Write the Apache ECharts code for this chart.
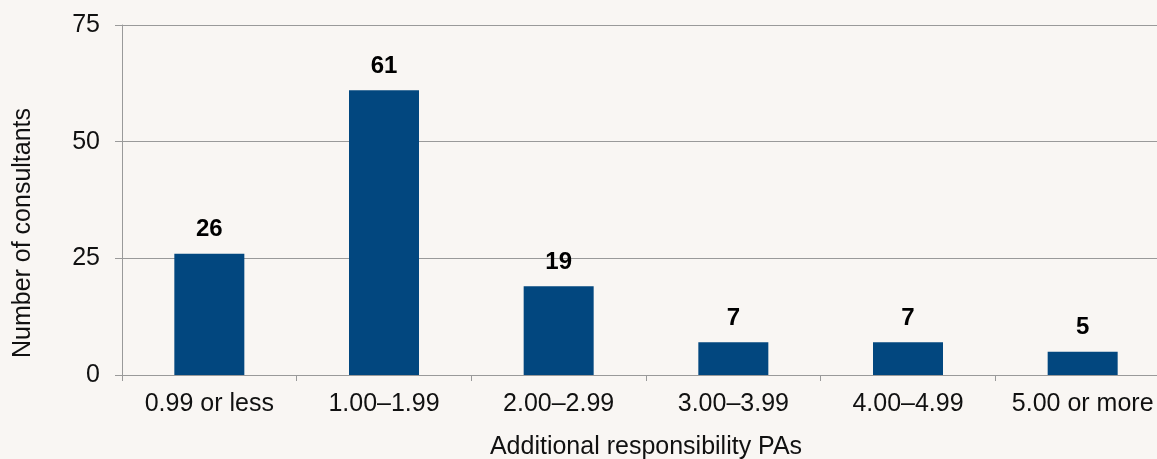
<!DOCTYPE html>
<html>
<head>
<meta charset="utf-8">
<script src="https://cdn.jsdelivr.net/npm/echarts@6/dist/echarts.min.js"></script>
<style>
  html, body { margin: 0; padding: 0; background: #f9f6f3; overflow: hidden; }
  #chart { width: 1157px; height: 459px; }
</style>
</head>
<body>
<div id="chart"></div>
<script>
// Consultants grouped by number of additional responsibility PAs
const categories = ['0.99 or less', '1.00\u20131.99', '2.00\u20132.99', '3.00\u20133.99', '4.00\u20134.99', '5.00 or more'];
const consultants = [26, 61, 19, 7, 7, 5];
const yTicks = { min: 0, max: 75, interval: 25 };

const FONT = 'Liberation Sans, Arial, sans-serif';
const GREY = '#9a9a9a';

const chart = echarts.init(document.getElementById('chart'), null, { renderer: 'canvas' });
chart.setOption({
  backgroundColor: '#f9f6f3',
  animation: false,
  // the last category runs a little past the right edge of the canvas
  grid: {
    left: 122, top: 25, width: 1048, height: 350,
    containLabel: false,
    outerBoundsMode: 'none'
  },
  xAxis: {
    type: 'category',
    data: categories,
    name: 'Additional responsibility PAs',
    nameLocation: 'middle',
    nameGap: 60,
    nameTextStyle: { fontFamily: FONT, fontSize: 25, color: '#111' },
    axisLine: { lineStyle: { color: GREY, width: 1 } },
    axisTick: { show: true, length: 6, lineStyle: { color: GREY } },
    axisLabel: { fontFamily: FONT, fontSize: 25, color: '#111', margin: 17, interval: 0 },
    splitLine: { show: false }
  },
  yAxis: {
    type: 'value',
    min: yTicks.min,
    max: yTicks.max,
    interval: yTicks.interval,
    name: 'Number of consultants',
    nameLocation: 'middle',
    nameGap: 86,
    nameTextStyle: { fontFamily: FONT, fontSize: 25, color: '#111', padding: [0, 66, 0, 0] },
    axisLine: { show: true, lineStyle: { color: GREY, width: 1 } },
    axisTick: { show: true, length: 7, lineStyle: { color: GREY } },
    axisLabel: { fontFamily: FONT, fontSize: 25, color: '#111', margin: 22 },
    splitLine: { show: true, lineStyle: { color: GREY, width: 1 } }
  },
  series: [{
    type: 'bar',
    data: consultants,
    barWidth: 70,
    itemStyle: { color: '#02477f' },
    label: {
      show: true,
      position: 'top',
      distance: 12,
      fontFamily: FONT,
      fontSize: 24,
      fontWeight: 'bold',
      color: '#000'
    }
  }]
});
</script>
</body>
</html>
